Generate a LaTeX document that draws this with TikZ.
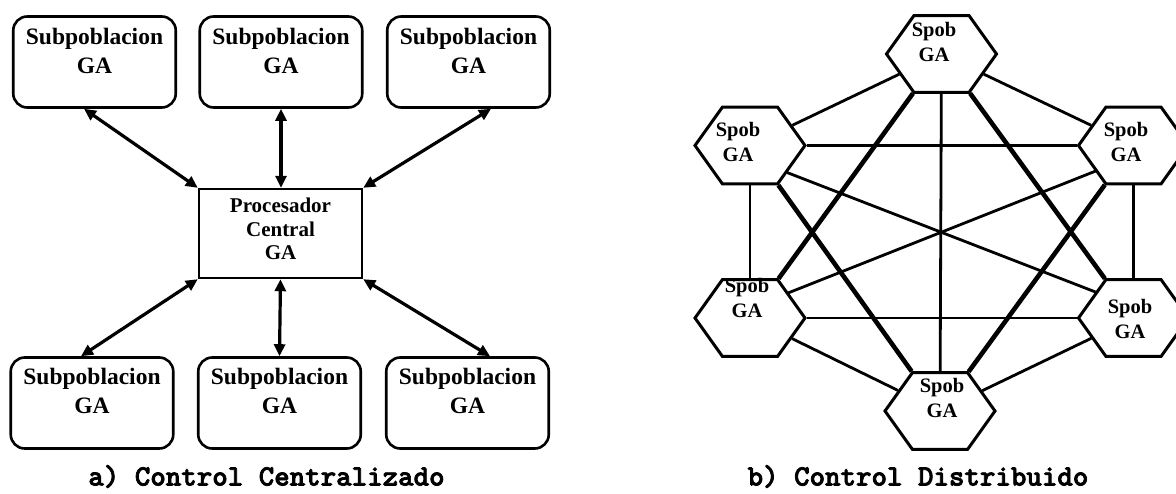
\documentclass[tikz,border=0pt]{standalone}
\usepackage{fontspec}
\setmainfont{Liberation Serif}
\newfontfamily\capfont[Extension=.otf, FakeBold=2.5]{lmmonolt10-bold}
\usetikzlibrary{shapes.geometric,arrows.meta,calc}
\begin{document}
\begin{tikzpicture}[x=1pt,y=-1pt,
  subbox/.style={draw, line width=2.6pt, rounded corners=14pt, minimum width=162.5pt, minimum height=91pt, inner sep=0pt},
  cenbox/.style={draw, line width=2.4pt, minimum width=163pt, minimum height=89pt, inner sep=0pt},
  subtxt/.style={anchor=north, inner sep=0pt, align=center, font=\fontsize{23.5}{28.5}\selectfont\bfseries},
  centxt/.style={anchor=north, inner sep=0pt, align=center, font=\fontsize{21}{23.5}\selectfont\bfseries},
  hexa/.style={regular polygon, regular polygon sides=6, minimum size=110pt, inner sep=0pt, draw, line width=3pt, fill=white, transform shape, yscale=0.808},
  hextxt/.style={anchor=north, inner sep=0pt, align=center, font=\fontsize{20.5}{25}\selectfont\bfseries},
  dblarrow/.style={line width=3.2pt, {Triangle[length=12pt,width=11pt]}-{Triangle[length=12pt,width=11pt]}},
  thinlink/.style={line width=2.8pt},
  thicklink/.style={line width=4.6pt},
  captxt/.style={anchor=base, inner sep=0pt, font=\fontsize{29.5}{34}\selectfont\capfont}]
\useasboundingbox (0,0) rectangle (1176,493);
\clip (0,0) rectangle (1176,493);

% ---- a) centralized ----
\node[subbox] (t1) at (94.5,62) {};
\node[subbox] (t2) at (281,62) {};
\node[subbox] (t3) at (468.5,62) {};
\node[subbox] (b1) at (92,403) {};
\node[subbox] (b2) at (279.5,403) {};
\node[subbox] (b3) at (467.5,403) {};
\node[cenbox] (c) at (280.5,233.5) {};

\node[subtxt] (t1l) at ($(t1.north)+(0,13)$) {Subpoblacion\\GA};
\node[subtxt] (t2l) at ($(t2.north)+(0,13)$) {Subpoblacion\\GA};
\node[subtxt] (t3l) at ($(t3.north)+(0,13)$) {Subpoblacion\\GA};
\node[subtxt] (b1l) at ($(b1.north)+(0,12)$) {Subpoblacion\\GA};
\node[subtxt] (b2l) at ($(b2.north)+(0,12)$) {Subpoblacion\\GA};
\node[subtxt] (b3l) at ($(b3.north)+(0,12)$) {Subpoblacion\\GA};
\node[centxt] (cl) at (280.5,198) {Procesador\\Central\\GA};

\draw[dblarrow] ($(t1.south)+(-10.5,0)$) -- (c.north west);
\draw[dblarrow] (t2.south) -- (c.north -| t2.south);
\draw[dblarrow] ($(t3.south)+(22.5,0)$) -- (c.north east);
\draw[dblarrow] (c.south west) -- ($(b1.north)+(-11,0)$);
\draw[dblarrow] (c.south) -- (b2.north);
\draw[dblarrow] (c.south east) -- ($(b3.north)+(22.5,0)$);

\node[captxt] (capa) at (266.5,485.5) {a) Control Centralizado};

% ---- b) distributed ----
\node[hexa] (hT) at (941.5,54) {};
\node[hexa] (hUL) at (750,145.5) {};
\node[hexa] (hUR) at (1133.5,145.5) {};
\node[hexa] (hLL) at (750,318) {};
\node[hexa] (hLR) at (1133.5,318) {};
\node[hexa] (hB) at (940,411) {};

\draw[thinlink] (hT) -- (hUL);
\draw[thinlink] (hT) -- (hUR);
\draw[thinlink] (hT) -- (hB);
\draw[thinlink] (hUL) -- (hUR);
\draw[thinlink] (hUL) -- (hLL);
\draw[thinlink] (hUR) -- (hLR);
\draw[thinlink] (hLL) -- (hLR);
\draw[thinlink] (hLL) -- (hB);
\draw[thinlink] (hLR) -- (hB);
\draw[thinlink] ($(hUL.center)+(37,27)$) -- ($(hLR.center)+(-38,-26)$);
\draw[thinlink] ($(hUR.center)+(-36.5,25)$) -- ($(hLL.center)+(38,-25)$);
\draw[thicklink] (hT) -- (hLL);
\draw[thicklink] (hT) -- (hLR);
\draw[thicklink] (hUL) -- (hB);
\draw[thicklink] (hUR) -- (hB);

\node[hextxt] (hTl) at (934,22) {Spob\\GA};
\node[hextxt] (hULl) at (738,122) {Spob\\GA};
\node[hextxt] (hURl) at (1126,122) {Spob\\GA};
\node[hextxt] (hLLl) at (747,278) {Spob\\GA};
\node[hextxt] (hLRl) at (1130,299) {Spob\\GA};
\node[hextxt] (hBl) at (942,378) {Spob\\GA};

\node[captxt] (capb) at (918,485.5) {b) Control Distribuido};
\end{tikzpicture}
\end{document}
